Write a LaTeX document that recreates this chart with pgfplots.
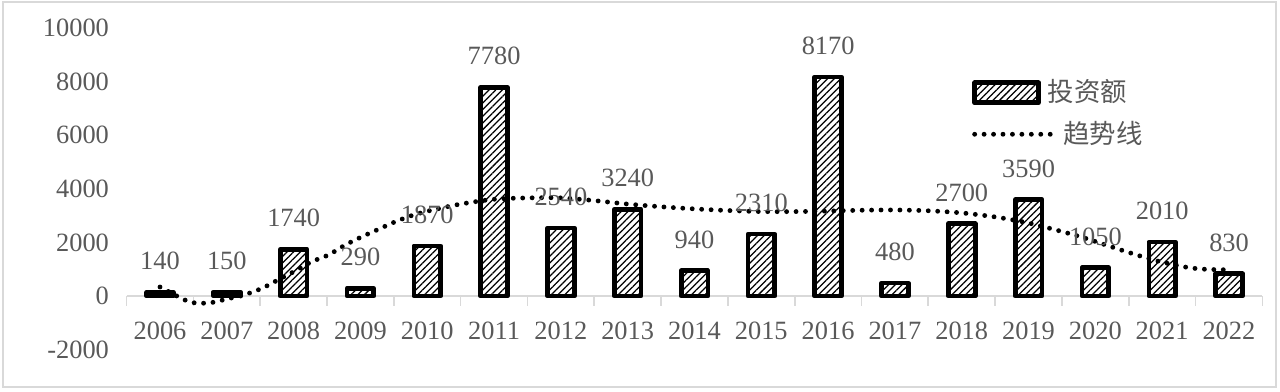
\documentclass[border=0pt]{standalone}
\usepackage{fontspec}
\setmainfont{Liberation Serif}
\newfontfamily\cjk{Noto Sans CJK SC}
\usepackage{pgfplots}
\pgfplotsset{compat=1.18}
\usetikzlibrary{patterns.meta}
\definecolor{txt}{HTML}{595959}
\definecolor{axg}{HTML}{D9D9D9}
\begin{document}
\fontsize{9.5}{11}\selectfont
\begin{tikzpicture}
\path[use as bounding box] (0,0) rectangle (460.8pt,141.12pt);
\draw[axg, line width=0.7pt] (1.08pt,1.8pt) rectangle (459.4pt,140.4pt);
\begin{axis}[
  at={(45.58pt,15.26pt)}, anchor=south west,
  scale only axis, width=408.9pt, height=115.78pt,
  xmin=2005.5, xmax=2022.5, ymin=-2000, ymax=10000,
  axis x line=middle, axis y line=left,
  scaled ticks=false,
  hide obscured x ticks=false, hide obscured y ticks=false,
  x axis line style={axg, line width=0.6pt, -},
  y axis line style={draw=none},
  xtick={2006,2007,...,2022},
  minor xtick={2005.5,2006.5,...,2022.5},
  major tick length=0pt, minor tick length=3.6pt,
  tick align=outside,
  minor tick style={axg, line width=0.6pt},
  major tick style={draw=none},
  ytick={-2000,0,2000,4000,6000,8000,10000},
  tick label style={font=\fontsize{9.5}{11}\selectfont, text=txt},
  /pgf/number format/assume math mode=true,
  /pgf/number format/1000 sep={},
  xticklabel style={yshift=-6pt},
  yticklabel style={xshift=-3pt},
  clip=false,
  legend cell align=left,
  legend style={at={(rel axis cs:0.744,0.858)}, anchor=north west, draw=none, fill=none,
    font=\cjk\fontsize{9.5}{11}\selectfont, text=txt, row sep=1.5pt, inner sep=0pt},
]
\addplot[ybar, bar width=0.4, draw=black, line width=1.7pt, line join=round,
  pattern={Lines[angle=45,distance=1.7pt,line width=0.45pt]},
  nodes near coords,
  every node near coord/.append style={font=\fontsize{9.5}{11}\selectfont, text=txt, yshift=4pt},
  legend image code/.code={\draw[line width=1.7pt, pattern={Lines[angle=45,distance=1.7pt,line width=0.45pt]}] (0pt,-3.6pt) rectangle (23pt,3.6pt);}]
coordinates {
(2006,140) (2007,150) (2008,1740) (2009,290) (2010,1870) (2011,7780)
(2012,2540) (2013,3240) (2014,940) (2015,2310) (2016,8170) (2017,480)
(2018,2700) (2019,3590) (2020,1050) (2021,2010) (2022,830)
};
\addlegendentry{\hspace*{-4.3pt}投资额}
\addplot[black, line width=1.75pt, line cap=round, dash pattern=on 0pt off 3.4pt, smooth,
  legend image code/.code={\draw[black, line width=1.75pt, line cap=round, dash pattern=on 0pt off 3.4pt] (0pt,0pt) -- (27.7pt,0pt);}]
coordinates {
(2006,336) (2006.35,-125) (2006.5,-250) (2006.62,-270) (2006.76,-250) (2006.9,-175)
(2007.04,-87) (2007.17,-25) (2007.3,75) (2007.44,200) (2007.56,325) (2007.69,500)
(2008.05,970) (2008.27,1280) (2008.52,1530) (2008.77,1900) (2009.02,2210) (2009.27,2490)
(2009.52,2770) (2009.79,3020) (2010.08,3210) (2010.5,3430) (2011,3610) (2011.5,3660)
(2012,3660) (2012.5,3560) (2013,3430) (2013.5,3330) (2014,3250) (2014.5,3190)
(2015,3150) (2015.5,3150) (2016,3170) (2016.5,3200) (2017,3210) (2017.5,3180)
(2018,3100) (2018.5,2950) (2018.95,2750) (2019.37,2490) (2019.65,2300) (2019.9,2115)
(2020.16,1900) (2020.43,1680) (2020.7,1470) (2020.97,1280) (2021.37,1070) (2021.63,1000)
(2021.9,980) (2022,990)
};
\addlegendentry{\hspace*{1.4pt}趋势线}
\end{axis}
\end{tikzpicture}
\end{document}
